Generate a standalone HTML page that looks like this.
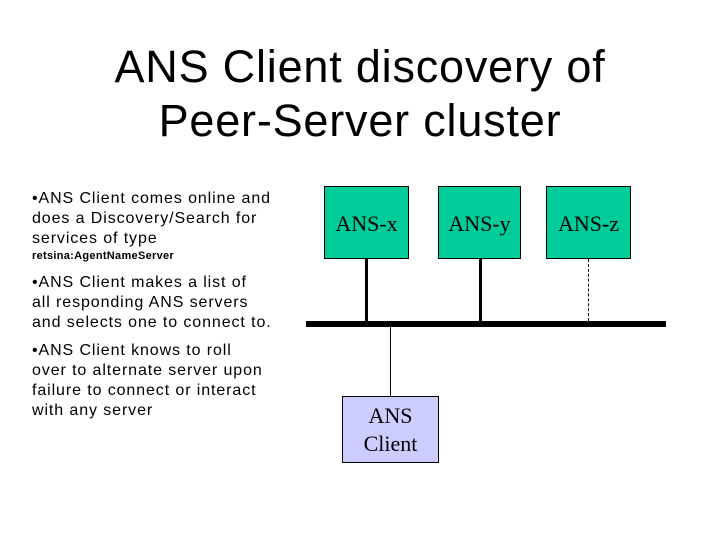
<!DOCTYPE html>
<html><head><style>
body{margin:0;width:720px;height:540px;background:#fff;position:relative;overflow:hidden;font-family:"Liberation Sans",sans-serif}
.t{position:absolute;left:0;width:720px;text-align:center;font-size:45px;line-height:54px;color:#000;letter-spacing:0.8px}
.b{position:absolute;left:32px;font-size:16px;line-height:20px;color:#000;white-space:nowrap;letter-spacing:0.9px}
.box{position:absolute;background:#00cc99;border:1px solid #000;font-family:"Liberation Serif",serif;font-size:22px;text-align:center;box-sizing:border-box}
.l{position:absolute;background:#000}
</style></head><body>
<div class="t" style="top:40px">ANS Client discovery of</div>
<div class="t" style="top:94px">Peer-Server cluster</div>
<div class="b" style="top:189px">•ANS Client comes online and<br>does a Discovery/Search for<br>services of type<br><span style="font-size:11px;font-weight:bold;line-height:14px;display:block;letter-spacing:0.3px">retsina:AgentNameServer</span></div>
<div class="b" style="top:273px">•ANS Client makes a list of<br>all responding ANS servers<br>and selects one to connect to.</div>
<div class="b" style="top:341px">•ANS Client knows to roll<br>over to alternate server upon<br>failure to connect or interact<br>with any server</div>
<div class="box" style="left:324px;top:186px;width:85px;height:73px;line-height:73px">ANS-x</div>
<div class="box" style="left:438px;top:186px;width:83px;height:73px;line-height:73px">ANS-y</div>
<div class="box" style="left:546px;top:186px;width:85px;height:73px;line-height:73px">ANS-z</div>
<div class="l" style="left:365px;top:259px;width:3px;height:63px"></div>
<div class="l" style="left:479px;top:259px;width:3px;height:63px"></div>
<div style="position:absolute;left:588px;top:259px;height:62px;border-left:1px dashed #000"></div>
<div class="l" style="left:306px;top:321px;width:360px;height:6px"></div>
<div class="l" style="left:390px;top:327px;width:1px;height:69px"></div>
<div class="box" style="left:342px;top:396px;width:97px;height:67px;background:#ccccff;line-height:28px;padding-top:5px;font-size:22px">ANS<br>Client</div>
</body></html>
